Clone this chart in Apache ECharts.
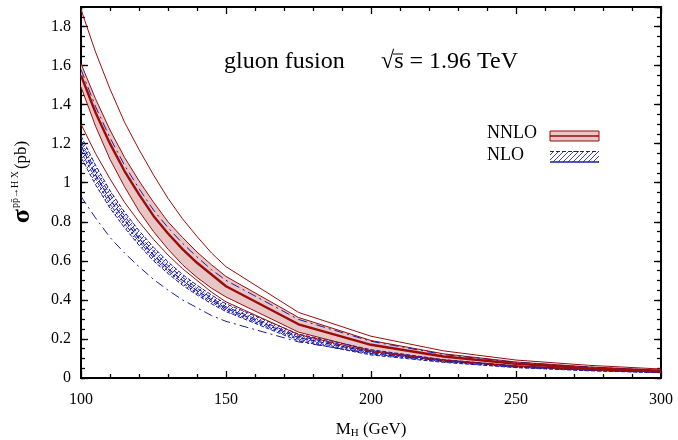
<!DOCTYPE html>
<html><head><meta charset="utf-8">
<script src="https://cdn.jsdelivr.net/npm/echarts@6/dist/echarts.min.js"></script>
<style>html,body{margin:0;padding:0;background:#fff}#c{width:678px;height:440px}</style>
</head><body><div id="c"></div>
<script>
// ---- data ----
const mH = [100,105,110,115,120,125,130,135,140,145,150,175,200,225,250,275,300];
const nnloCentral = [1.55,1.36,1.20,1.06,0.94,0.83,0.74,0.66,0.59,0.53,0.47,0.275,0.170,0.110,0.073,0.050,0.035];
const nnloBandUp  = [1.61,1.43,1.27,1.13,1.01,0.90,0.80,0.72,0.645,0.58,0.52,0.31,0.192,0.124,0.082,0.057,0.040];
const nnloBandLow = [1.49,1.29,1.12,0.98,0.855,0.75,0.66,0.58,0.515,0.46,0.415,0.235,0.140,0.093,0.062,0.044,0.031];
const nnloOuterUp = [1.887,1.67,1.48,1.31,1.17,1.04,0.92,0.815,0.725,0.64,0.57,0.336,0.214,0.139,0.092,0.065,0.046];
const nnloOuterLow= [1.30,1.15,1.02,0.90,0.80,0.71,0.63,0.56,0.50,0.44,0.39,0.222,0.135,0.090,0.060,0.042,0.030];
const nloBandUp   = [1.24,1.09,0.96,0.85,0.755,0.67,0.595,0.53,0.475,0.425,0.38,0.225,0.145,0.094,0.062,0.043,0.031];
const nloBandLow  = [1.13,0.99,0.87,0.77,0.68,0.60,0.535,0.475,0.425,0.38,0.34,0.19,0.118,0.080,0.053,0.037,0.027];
const nloCentral  = [1.19,1.04,0.915,0.81,0.715,0.63,0.56,0.50,0.447,0.40,0.357,0.207,0.131,0.087,0.058,0.040,0.029];
const nloInnerA   = [1.21,1.06,0.94,0.83,0.73,0.65,0.575,0.515,0.46,0.41,0.365,0.214,0.137,0.090,0.060,0.042,0.030];
const nloInnerB   = [1.16,1.02,0.89,0.79,0.70,0.615,0.548,0.487,0.435,0.39,0.348,0.198,0.124,0.083,0.055,0.039,0.028];
const nloOuterUp  = [1.58,1.39,1.23,1.09,0.97,0.86,0.77,0.69,0.62,0.555,0.50,0.30,0.188,0.120,0.080,0.056,0.039];
const nloOuterLow = [0.93,0.82,0.72,0.64,0.57,0.505,0.45,0.40,0.36,0.32,0.29,0.185,0.125,0.087,0.060,0.043,0.030];
const xTicks = [100,150,200,250,300];
const yTickLabels = ['0','0.2','0.4','0.6','0.8','1','1.2','1.4','1.6','1.8'];

const RED = '#9e0b0b', BLUE = '#1c1ca6', PINK = '#e7c6c6';
const FONT = 'Liberation Serif';

function pairs(ys){ return mH.map((x,i)=>[x, ys[i]]); }

// hatch pattern
const pc = document.createElement('canvas'); pc.width = 5; pc.height = 5;
const g = pc.getContext('2d'); g.strokeStyle = '#2b2bc0'; g.lineWidth = 0.9;
g.beginPath(); g.moveTo(0,5); g.lineTo(5,0); g.moveTo(-1,1); g.lineTo(1,-1); g.moveTo(4,6); g.lineTo(6,4); g.stroke();
const hatch = {image: pc, repeat: 'repeat'};

function band(name, lowArr, upArr, fill, stroke, dash, z) {
  return {
    type:'custom', name, silent:true, z,
    data: mH.map((x,i)=>[x, lowArr[i], upArr[i]]),
    encode:{x:0, y:[1,2]},
    renderItem:(params, api) => {
      if (params.dataIndex !== 0) return null;
      const top = mH.map((x,i)=>api.coord([x, upArr[i]]));
      const bot = mH.map((x,i)=>api.coord([x, lowArr[i]])).reverse();
      return {type:'group', children:[
        {type:'polygon', shape:{points: top.concat(bot)}, style:{fill, stroke:null}},
        {type:'polyline', shape:{points: top}, style:{stroke, lineWidth:1, fill:null, lineDash:dash}},
        {type:'polyline', shape:{points: bot}, style:{stroke, lineWidth:1, fill:null, lineDash:dash}}
      ]};
    }
  };
}

const chart = echarts.init(document.getElementById('c'), null, {renderer:'canvas'});
const axCommon = {
  type:'value', min:100, max:300, interval:50,
  axisLine:{show:true, onZero:false, lineStyle:{color:'#000', width:2}},
  axisTick:{show:true, inside:true, length:7, lineStyle:{color:'#000', width:1.3}},
  minorTick:{show:true, splitNumber:5, length:4, lineStyle:{color:'#000', width:1.3}},
  splitLine:{show:false}
};
const yCommon = {
  type:'value', min:0, max:1.9,
  axisLine:{show:true, onZero:false, lineStyle:{color:'#000', width:2}},
  splitLine:{show:false}
};
const line = (name, ys, color, width, type, extra) => Object.assign({
  type:'line', name, data: pairs(ys), symbol:'none', silent:true,
  lineStyle:{color, width, type: type||'solid'}, z:3
}, extra||{});

const option = {
  animation:false,
  grid:{left:81, right:17, top:7, bottom:62},
  xAxis:[
    Object.assign({}, axCommon, {position:'bottom',
      axisLabel:{show:true, margin:14, fontFamily:FONT, fontSize:16, color:'#000',
        formatter:v => xTicks.includes(v) ? String(v) : ''}}),
    Object.assign({}, axCommon, {position:'top', axisLabel:{show:false}})
  ],
  yAxis:[
    Object.assign({}, yCommon, {position:'left', interval:0.2,
      axisTick:{show:true, inside:true, length:7, lineStyle:{color:'#000', width:1.3}},
      axisLabel:{show:true, margin:10, fontFamily:FONT, fontSize:16, color:'#000', showMaxLabel:false,
        formatter:v => { const k = Math.round(v/0.2); return Math.abs(v-k*0.2)<1e-6 && k<yTickLabels.length ? yTickLabels[k] : ''; }}}),
    Object.assign({}, yCommon, {position:'left', interval:0.05,
      axisTick:{show:true, inside:true, length:4, lineStyle:{color:'#000', width:1.3}},
      axisLabel:{show:false}}),
    Object.assign({}, yCommon, {position:'right', interval:0.2,
      axisTick:{show:true, inside:true, length:7, lineStyle:{color:'#000', width:1.3}},
      axisLabel:{show:false}}),
    Object.assign({}, yCommon, {position:'right', interval:0.05,
      axisTick:{show:true, inside:true, length:4, lineStyle:{color:'#000', width:1.3}},
      axisLabel:{show:false}})
  ],
  series:[
    band('nnloBand', nnloBandLow, nnloBandUp, PINK, RED, null, 1),
    band('nloBand', nloBandLow, nloBandUp, hatch, BLUE, [4,2], 2),
    line('nloCentral', nloCentral, BLUE, 1.2, [6,2]),
    line('nloInnerA', nloInnerA, BLUE, 1, [5,2,1,2]),
    line('nloInnerB', nloInnerB, BLUE, 1, [3,2]),
    line('nloOuterUp', nloOuterUp, BLUE, 1, [9,4,2,4]),
    line('nloOuterLow', nloOuterLow, BLUE, 1, [9,4,2,4]),
    line('nnloOuterUp', nnloOuterUp, RED, 1),
    line('nnloOuterLow', nnloOuterLow, RED, 1),
    line('nnloCentral', nnloCentral, RED, 2.4, 'solid', {z:4})
  ],
  graphic:[
    {type:'text', z:100, left:224, top:50, style:{text:'gluon fusion', font:'24px "Liberation Serif"', fill:'#000'}},
    {type:'text', z:100, left:381, top:50, style:{text:'√s = 1.96 TeV', font:'24px "Liberation Serif"', fill:'#000'}},
    {type:'line', z:100, shape:{x1:393, y1:54, x2:403, y2:54}, style:{stroke:'#000', lineWidth:1}},
    {type:'text', z:100, left:487, top:124, style:{text:'NNLO', font:'18px "Liberation Serif"', fill:'#000'}},
    {type:'text', z:100, left:487, top:146, style:{text:'NLO', font:'18px "Liberation Serif"', fill:'#000'}},
    {type:'rect', z:100, shape:{x:550, y:131, width:49, height:10}, style:{fill:PINK, stroke:RED, lineWidth:1}},
    {type:'line', z:100, shape:{x1:550, y1:136, x2:599, y2:136}, style:{stroke:RED, lineWidth:1.5}},
    {type:'rect', z:100, shape:{x:550, y:151, width:49, height:11}, style:{fill:hatch, stroke:null}},
    {type:'line', z:100, shape:{x1:550, y1:151.5, x2:599, y2:151.5}, style:{stroke:BLUE, lineWidth:1, lineDash:[4,2]}},
    {type:'line', z:100, shape:{x1:550, y1:162, x2:599, y2:162}, style:{stroke:BLUE, lineWidth:1.5}},
    {type:'text', z:100, x:371, y:430, style:{
      text:'{m|M}{s|H}{m| (GeV)}', align:'center', verticalAlign:'middle',
      rich:{m:{fontFamily:FONT, fontSize:17, fill:'#000'}, s:{fontFamily:FONT, fontSize:11, fill:'#000', padding:[6,0,0,0]}}}},
    {type:'text', z:100, x:22, y:182, rotation:Math.PI/2, style:{
      text:'{g|σ}{p|pp̄→H X}{n|(pb)}', align:'center', verticalAlign:'middle',
      rich:{g:{fontFamily:FONT, fontSize:26, fontWeight:'bold', fill:'#000'},
            p:{fontFamily:FONT, fontSize:10, fill:'#000', padding:[0,2,14,1]},
            n:{fontFamily:FONT, fontSize:17, fill:'#000'}}}}
  ]
};
chart.setOption(option);
</script></body></html>
